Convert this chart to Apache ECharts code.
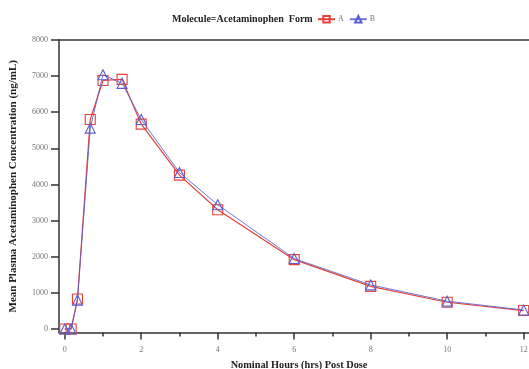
<!DOCTYPE html>
<html>
<head>
<meta charset="utf-8">
<script src="https://cdn.jsdelivr.net/npm/echarts@6/dist/echarts.min.js"></script>
<style>
  html, body { margin: 0; padding: 0; background: #fff; }
  #chart { width: 529px; height: 369px; }
</style>
</head>
<body>
<div id="chart"></div>
<script>
// Nominal sampling times (hours post dose)
const hours = [0, 0.167, 0.333, 0.667, 1, 1.5, 2, 3, 4, 6, 8, 10, 12];
// Mean plasma acetaminophen concentration (ng/mL) by form
const formA = [0, 0, 830, 5800, 6880, 6910, 5670, 4260, 3300, 1920, 1180, 740, 510];
const formB = [0, 0, 800, 5560, 7040, 6800, 5800, 4330, 3440, 1950, 1220, 770, 525];
// Axis tick values
const yMajor = [0, 1000, 2000, 3000, 4000, 5000, 6000, 7000, 8000];
const yMinor = [500, 1500, 2500, 3500, 4500, 5500, 6500, 7500];
const xMajor = [0, 2, 4, 6, 8, 10, 12];
const xMinor = [1, 3, 5, 7, 9, 11];

const serif = '"Liberation Serif", "DejaVu Serif", serif';
const axisColor = '#333';
const redC = '#e4413b';
const blueC = '#5b5fcf';

const pair = (xs, ys) => xs.map((x, i) => [x, ys[i]]);

const grid = { left: 59, top: 40, width: 480, height: 292.6, show: false, outerBoundsMode: 'none', containLabel: false };
const plain = v => String(v);

const chart = echarts.init(document.getElementById('chart'));
chart.setOption({
  animation: false,
  title: {
    text: 'Molecule=Acetaminophen  Form',
    left: 167, top: 9,
    textStyle: { fontFamily: serif, fontSize: 10, fontWeight: 'bold', color: '#222' }
  },
  legend: {
    left: 312, top: 10,
    itemWidth: 17, itemHeight: 8, itemGap: 5,
    textStyle: { fontFamily: serif, fontSize: 8, color: '#777', padding: [0, 0, 0, -2] },
    data: ['A', 'B']
  },
  grid: grid,
  xAxis: [{
    type: 'value', min: -0.15, max: 12.4,
    axisLine: { show: true, onZero: false, lineStyle: { color: axisColor, width: 1.5 } },
    axisTick: { show: true, length: 7, customValues: xMajor, lineStyle: { color: axisColor, width: 1.5 } },
    axisLabel: { customValues: xMajor, formatter: plain, fontFamily: serif, fontSize: 8, color: '#777', margin: 13 },
    splitLine: { show: false },
    name: 'Nominal Hours (hrs) Post Dose',
    nameLocation: 'middle', nameGap: 28,
    nameTextStyle: { fontFamily: serif, fontSize: 10.3, fontWeight: 'bold', color: '#222' }
  }, {
    type: 'value', min: -0.15, max: 12.4, position: 'bottom',
    axisLine: { show: false, onZero: false },
    axisTick: { show: true, length: 4, customValues: xMinor, lineStyle: { color: axisColor, width: 1.5 } },
    axisLabel: { show: false },
    splitLine: { show: false }
  }, {
    type: 'value', min: -0.15, max: 12.4, position: 'top',
    axisLine: { show: true, onZero: false, lineStyle: { color: axisColor, width: 1.5 } },
    axisTick: { show: false }, axisLabel: { show: false }, splitLine: { show: false }
  }],
  yAxis: [{
    type: 'value', min: -100, max: 8000,
    axisLine: { show: true, onZero: false, lineStyle: { color: axisColor, width: 1.5 } },
    axisTick: { show: true, length: 8, customValues: yMajor, lineStyle: { color: axisColor, width: 1.5 } },
    axisLabel: { customValues: yMajor, formatter: plain, fontFamily: serif, fontSize: 8, color: '#777', margin: 11 },
    splitLine: { show: false },
    name: 'Mean Plasma Acetaminophen Concentration (ng/mL)',
    nameLocation: 'middle', nameGap: 40,
    nameTextStyle: { fontFamily: serif, fontSize: 11, fontWeight: 'bold', color: '#222' }
  }, {
    type: 'value', min: -100, max: 8000,
    axisLine: { show: false, onZero: false },
    axisTick: { show: true, length: 4, customValues: yMinor, lineStyle: { color: axisColor, width: 1.5 } },
    axisLabel: { show: false },
    splitLine: { show: false }
  }],
  series: [{
    name: 'A', type: 'line',
    xAxisIndex: 0, yAxisIndex: 0,
    data: pair(hours, formA),
    symbol: 'rect', symbolSize: 10,
    lineStyle: { color: redC, width: 1.2 },
    itemStyle: { color: 'rgba(255,255,255,0)', borderColor: redC, borderWidth: 1.1 },
    z: 2
  }, {
    name: 'B', type: 'line',
    xAxisIndex: 0, yAxisIndex: 0,
    data: pair(hours, formB),
    symbol: 'triangle', symbolSize: 10,
    lineStyle: { color: blueC, width: 1, opacity: 0.85 },
    itemStyle: { color: 'rgba(255,255,255,0)', borderColor: blueC, borderWidth: 1.1 },
    z: 3
  }]
});
</script>
</body>
</html>
